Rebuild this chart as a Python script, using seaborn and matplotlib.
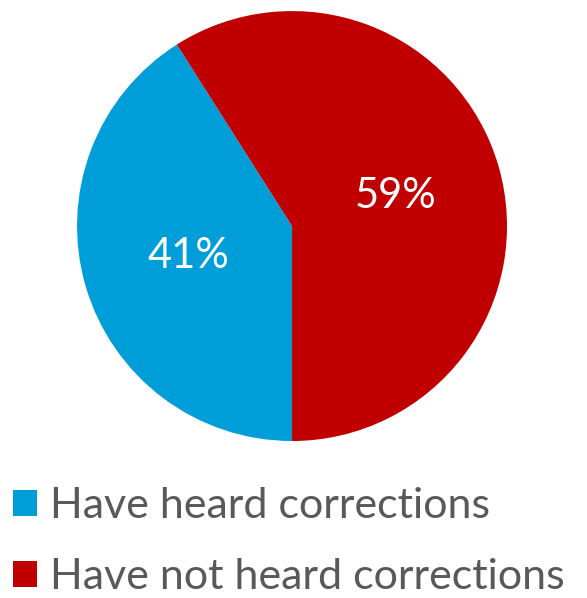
import matplotlib
matplotlib.use("Agg")
import matplotlib.pyplot as plt
import seaborn as sns

labels = ["Have heard corrections", "Have not heard corrections"]
shares = [41, 59]
colors = ["#009ED8", "#C00000"]

sns.set_theme(style="white")
plt.rcParams['font.family'] = ['Lato', 'DejaVu Sans']

fig = plt.figure(figsize=(5.87, 5.98), dpi=100)
ax = fig.add_axes([0.131, 0.2625, 0.733, 0.719])

wedges, texts, autotexts = ax.pie(
    shares, colors=sns.color_palette(colors), startangle=270, counterclock=False,
    autopct='%1.0f%%', pctdistance=0.5,
    textprops=dict(color='white', fontsize=30),
    wedgeprops=dict(linewidth=0))
ax.set_xlim(-1, 1)
ax.set_ylim(-1, 1)
ax.set_aspect('equal')

leg = fig.legend(wedges, labels, loc='upper left', bbox_to_anchor=(0.022, 0.185),
                 frameon=False, fontsize=31, labelcolor='#595959',
                 handlelength=0.57, handleheight=0.57, handletextpad=0.3,
                 labelspacing=0.76, borderaxespad=0, borderpad=0)

fig.savefig("out.png", dpi=100)
